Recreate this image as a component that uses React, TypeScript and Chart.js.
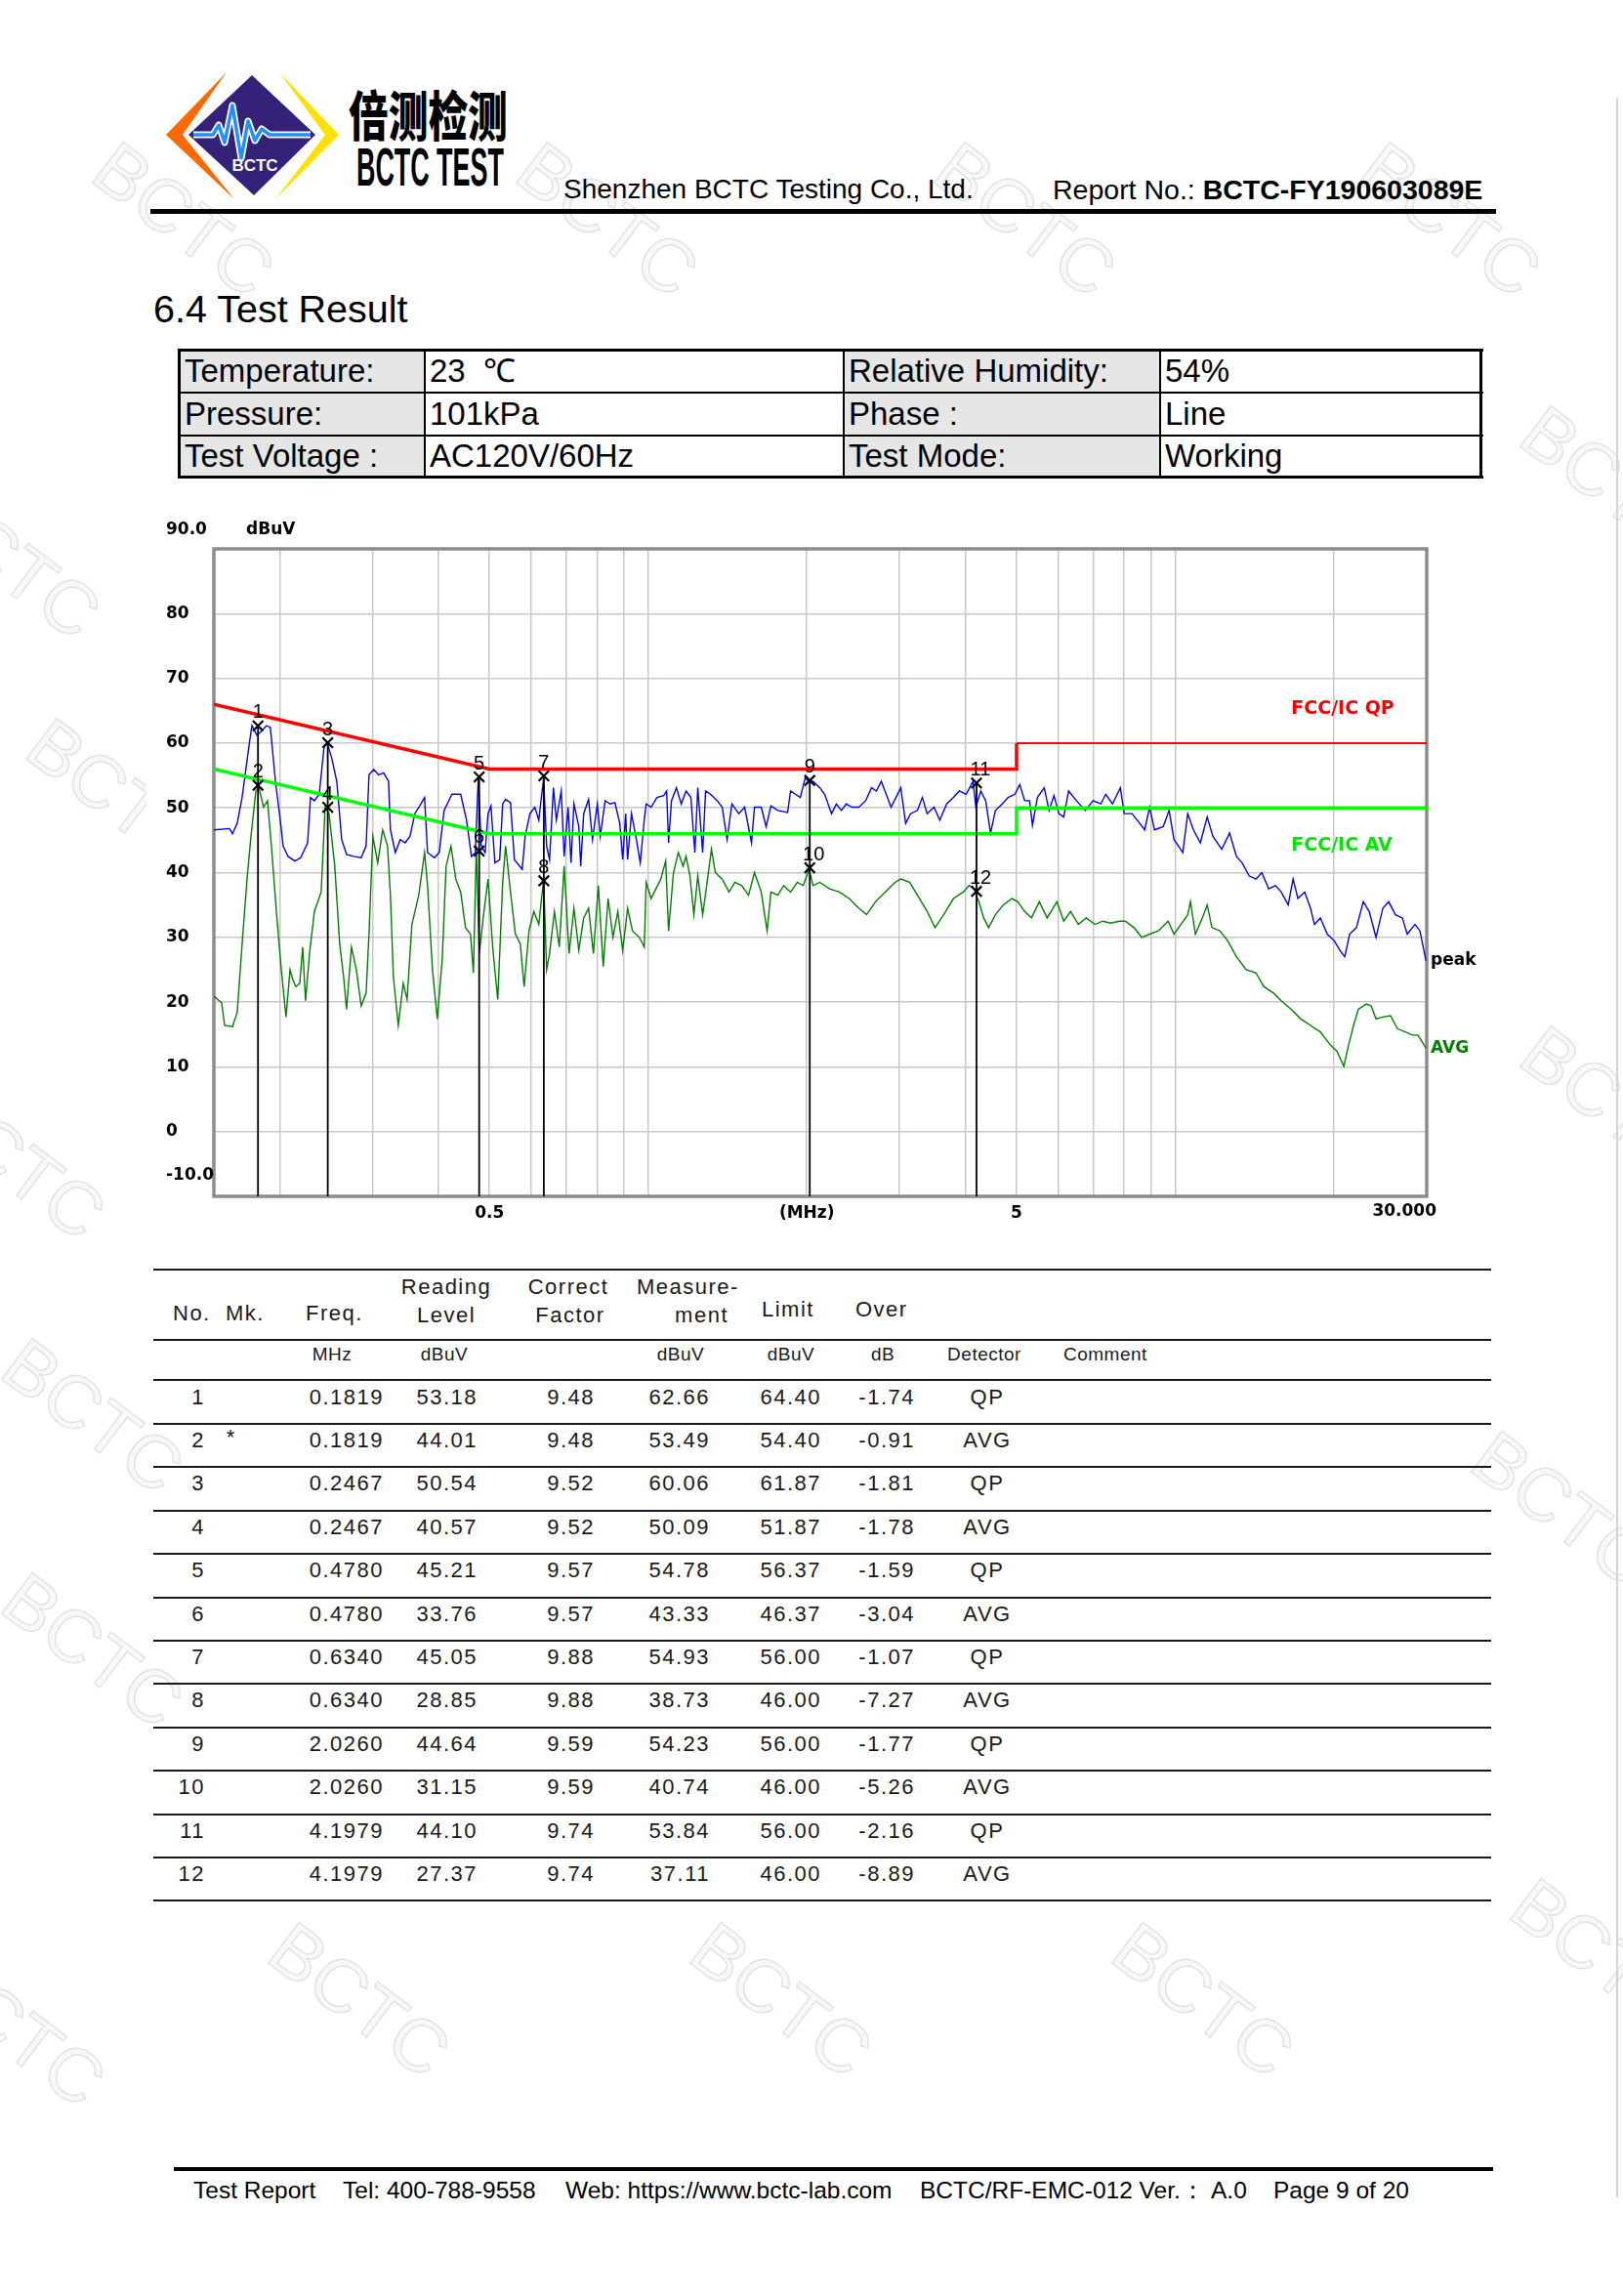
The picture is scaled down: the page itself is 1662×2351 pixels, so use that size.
import React, { useEffect, useRef } from 'react';
import { Chart, registerables } from 'chart.js';
Chart.register(...registerables);

// ---------- chart data (MHz / dBuV) ----------
const peakFreq = [0.15,0.1606,0.1627,0.1661,0.1697,0.1749,0.1771,0.1810,0.1849,0.1888,0.1920,0.1963,0.2005,0.2030,0.2074,0.2137,0.2192,0.2259,0.2288,0.2327,0.2377,0.2429,0.2460,0.2512,0.2566,0.2622,0.2678,0.2759,0.2855,0.2917,0.2954,0.3017,0.3082,0.3149,0.3217,0.3244,0.3314,0.3386,0.3459,0.3533,0.3609,0.3687,0.3766,0.3815,0.3931,0.4015,0.4101,0.4244,0.4409,0.4524,0.4622,0.4701,0.4762,0.4823,0.4906,0.4969,0.5033,0.5120,0.5229,0.5297,0.5365,0.5481,0.5575,0.5769,0.5843,0.5968,0.6096,0.6202,0.6335,0.6418,0.6501,0.6612,0.6697,0.6841,0.6929,0.7049,0.7140,0.7231,0.7387,0.7450,0.7546,0.7709,0.7842,0.8010,0.8113,0.8288,0.8467,0.8649,0.8835,0.8949,0.9065,0.9142,0.9299,0.9500,0.9663,0.9831,0.9915,1.0129,1.0390,1.0703,1.0841,1.0934,1.1074,1.1314,1.1557,1.1800,1.2054,1.2264,1.2422,1.269,1.2853,1.3130,1.3525,1.382,1.4118,1.442,1.4857,1.5244,1.571,1.5912,1.639,1.6743,1.710,1.7618,1.8391,1.863,1.9031,1.944,1.9859,2.020,2.0551,2.117,2.1626,2.2279,2.2759,2.3257,2.3758,2.4370,2.510,2.5860,2.6537,2.7109,2.7692,2.8288,2.8897,2.9520,3.0153,3.0803,3.1470,3.243,3.3129,3.384,3.4865,3.5754,3.684,3.7956,3.8935,4.012,4.1335,4.186,4.2762,4.369,4.4631,4.559,4.6971,4.8182,4.964,5.0709,5.180,5.2916,5.3597,5.4766,5.642,5.7635,5.888,6.0148,6.144,6.2763,6.4945,6.7483,6.983,7.2252,7.3798,7.604,7.8678,8.0029,8.279,8.5662,8.7512,8.9397,9.1341,9.4895,9.7354,9.9464,10.338,10.560,10.828,11.16,11.498,11.790,12.254,12.68,13.064,13.400,13.81,14.228,14.595,15.04,15.496,15.892,16.38,16.733,17.09,17.608,18.059,18.370,18.850,19.43,20.019,20.531,20.973,21.422,22.07,22.739,23.337,24.04,24.768,25.403,26.17,26.963,27.554,28.51,29.124,29.9];
const peakLevel = [46.6,46.8,46.0,47.6,51.6,59.6,62.7,61.2,61.9,62.7,62.4,54.1,48.1,44.1,42.5,41.8,42.3,44.6,51.6,51.1,52.1,59.6,60.1,57.6,54.1,45.1,42.8,42.5,42.3,44.1,55.1,55.9,55.1,55.4,54.1,46.6,43.1,45.1,44.6,45.6,49.1,50.3,51.6,43.1,42.3,43.1,49.6,52.1,52.1,48.1,42.5,43.1,54.6,44.1,43.1,49.1,50.3,41.5,42.0,50.6,51.3,50.8,42.0,40.5,45.6,49.1,50.1,48.1,54.6,44.1,42.0,53.1,48.1,52.6,42.5,50.1,41.5,50.6,47.1,41.0,49.1,51.3,45.1,50.6,45.6,51.1,50.6,50.8,47.6,42.0,49.1,42.0,49.1,45.1,41.5,48.1,50.6,50.1,51.6,51.9,52.6,44.6,51.1,53.1,50.6,52.6,51.6,43.1,53.1,43.1,52.6,52.1,51.1,50.1,45.1,50.6,49.1,50.1,44.6,50.1,50.1,47.1,50.3,49.6,49.3,52.6,52.1,51.6,54.6,54.1,54.1,53.1,52.1,49.1,50.6,49.6,50.6,50.1,50.1,51.1,53.1,52.6,54.1,52.1,50.1,51.6,53.1,47.6,49.1,49.6,51.6,49.1,50.1,48.1,50.6,51.6,52.6,52.1,54.1,50.1,52.6,51.1,46.1,49.6,50.6,51.6,52.1,53.6,51.1,51.1,47.3,51.6,53.1,49.6,51.9,49.1,48.6,52.6,51.1,49.6,51.1,50.6,52.1,50.6,53.1,49.1,49.1,47.6,46.6,50.1,46.6,47.1,49.6,45.1,43.1,49.1,46.6,44.6,48.6,45.6,43.6,46.1,42.5,41.5,39.5,39.0,40.0,37.5,38.0,37.0,35.0,39.0,36.0,37.0,34.5,32.0,33.0,30.5,29.5,28.0,27.0,30.5,31.5,35.5,34.0,30.0,34.5,35.5,33.5,33.0,30.5,32.0,31.0,26.4];

const avgFreq = [0.15,0.1552,0.1572,0.1627,0.1661,0.1697,0.1734,0.1764,0.1802,0.1826,0.1864,0.1896,0.1929,0.1971,0.2014,0.2056,0.2092,0.2119,0.2146,0.2183,0.2211,0.2239,0.2278,0.2327,0.2397,0.2439,0.2481,0.2544,0.2599,0.2644,0.2678,0.2736,0.2795,0.2855,0.2917,0.2954,0.3004,0.3069,0.3136,0.3203,0.3244,0.3286,0.3357,0.3430,0.3489,0.3563,0.3671,0.3766,0.3815,0.3898,0.3981,0.4067,0.4137,0.4226,0.4317,0.4409,0.4504,0.4602,0.4661,0.4721,0.4782,0.4865,0.4969,0.5076,0.5185,0.5297,0.5365,0.5481,0.5599,0.5720,0.5818,0.5942,0.6070,0.6202,0.6335,0.6418,0.6501,0.6641,0.6783,0.6929,0.7079,0.7231,0.7387,0.7546,0.7709,0.7875,0.8044,0.8218,0.8395,0.8576,0.8760,0.8949,0.9142,0.9339,0.9622,0.9831,0.9915,1.0129,1.0346,1.0569,1.0795,1.0934,1.117,1.1411,1.165,1.1800,1.2003,1.2212,1.2422,1.269,1.2963,1.3186,1.3410,1.382,1.4239,1.4606,1.505,1.5506,1.5912,1.639,1.6815,1.710,1.7618,1.8080,1.863,1.9194,1.9690,2.020,2.0551,2.117,2.209,2.306,2.406,2.510,2.5971,2.6994,2.8168,2.9394,3.0153,3.1336,3.243,3.384,3.5014,3.6369,3.7956,3.9604,4.0636,4.1512,4.2399,4.3312,4.4252,4.559,4.7172,4.9011,5.0279,5.180,5.3369,5.5235,5.7146,5.9638,6.144,6.3301,6.5501,6.7771,7.0428,7.286,7.5388,7.8343,8.0371,8.3499,8.640,8.9397,9.2912,9.6940,9.9464,10.25,10.560,10.69,10.920,11.256,11.498,11.740,12.15,12.571,13.064,13.631,14.228,14.720,15.364,15.892,16.591,17.310,18.059,18.850,19.680,20.27,20.884,21.331,21.791,22.259,23.04,23.536,24.04,24.768,25.620,26.394,27.32,28.148,28.877,29.9];
const avgLevel = [20.9,19.9,16.4,16.2,18.4,29.0,39.0,45.6,52.6,53.1,50.1,51.1,44.1,34.0,25.0,17.7,25.0,23.4,22.4,22.9,28.5,20.2,27.5,34.0,37.0,50.1,49.1,41.0,29.0,23.9,18.9,28.5,25.0,19.4,21.4,30.5,45.6,41.5,46.6,44.1,36.5,23.9,16.4,22.9,20.4,32.0,36.5,43.1,38.0,25.0,17.4,26.5,41.0,44.1,39.0,37.0,31.5,30.5,24.5,44.0,27.5,33.0,39.0,28.0,20.4,38.5,44.1,37.0,30.5,29.0,22.4,31.0,34.0,32.0,39.0,25.0,27.5,34.0,28.5,41.0,27.5,34.5,28.0,33.0,34.5,27.5,38.0,25.5,36.0,30.0,34.0,28.0,34.5,31.0,30.0,28.5,38.5,36.0,37.5,39.0,41.8,31.0,40.0,43.1,41.0,42.5,39.5,33.5,39.5,33.5,39.0,43.6,40.0,39.0,37.0,38.5,38.0,36.5,40.0,37.0,31.0,37.0,36.5,38.0,37.0,38.5,38.0,40.5,38.0,38.5,37.5,37.0,36.0,34.5,33.5,35.5,37.0,38.5,39.0,38.5,36.5,34.0,31.5,33.5,36.0,37.0,38.0,37.5,35.5,33.0,31.5,33.5,35.0,36.0,35.5,34.0,33.0,35.5,33.0,35.5,32.5,34.0,32.0,33.0,32.0,32.5,32.2,32.5,32.5,31.5,30.0,30.5,31.0,32.5,30.5,32.0,33.5,35.5,30.5,33.0,35.0,31.5,31.0,29.5,27.0,25.0,24.5,22.4,21.4,20.2,18.9,17.4,16.4,15.4,13.4,12.4,10.1,13.4,16.4,18.9,19.7,19.4,17.4,17.7,17.9,15.9,15.4,14.9,14.9,12.9];

const qpLimitFreq = [0.15, 0.5, 5, 5, 30];
const qpLimitLevel = [66, 56, 56, 60, 60];
const avLimitFreq = [0.15, 0.5, 5, 5, 30];
const avLimitLevel = [56, 46, 46, 50, 50];

const markerNo = [1, 2, 3, 4, 5, 6, 7, 8, 9, 10, 11, 12];
const markerFreq = [0.1819, 0.1819, 0.2467, 0.2467, 0.478, 0.478, 0.634, 0.634, 2.026, 2.026, 4.1979, 4.1979];
const markerLevel = [62.66, 53.49, 60.06, 50.09, 54.78, 43.33, 54.93, 38.73, 54.23, 40.74, 53.84, 37.11];

const xGridTicks = [0.15, 0.2, 0.3, 0.4, 0.5, 0.6, 0.7, 0.8, 0.9, 1, 2, 3, 4, 5, 6, 7, 8, 9, 10, 20, 30];
const xTickText: Record<string, string> = { '0.5': '0.5', '2': '(MHz)', '5': '5' };
const yMin = -10;
const yMax = 90;

// ---------- table data ----------
const rowNo = ['1', '2', '3', '4', '5', '6', '7', '8', '9', '10', '11', '12'];
const rowMk = ['', '*', '', '', '', '', '', '', '', '', '', ''];
const rowFreq = ['0.1819', '0.1819', '0.2467', '0.2467', '0.4780', '0.4780', '0.6340', '0.6340', '2.0260', '2.0260', '4.1979', '4.1979'];
const rowReading = ['53.18', '44.01', '50.54', '40.57', '45.21', '33.76', '45.05', '28.85', '44.64', '31.15', '44.10', '27.37'];
const rowCorrect = ['9.48', '9.48', '9.52', '9.52', '9.57', '9.57', '9.88', '9.88', '9.59', '9.59', '9.74', '9.74'];
const rowMeasure = ['62.66', '53.49', '60.06', '50.09', '54.78', '43.33', '54.93', '38.73', '54.23', '40.74', '53.84', '37.11'];
const rowLimit = ['64.40', '54.40', '61.87', '51.87', '56.37', '46.37', '56.00', '46.00', '56.00', '46.00', '56.00', '46.00'];
const rowOver = ['-1.74', '-0.91', '-1.81', '-1.78', '-1.59', '-3.04', '-1.07', '-7.27', '-1.77', '-5.26', '-2.16', '-8.89'];
const rowDetector = ['QP', 'AVG', 'QP', 'AVG', 'QP', 'AVG', 'QP', 'AVG', 'QP', 'AVG', 'QP', 'AVG'];

const FONT = '"Liberation Sans", Arial, sans-serif';
const CHART_FONT = '"DejaVu Sans", sans-serif';

type TP = { x: number; y: number; s: number; a?: 'left' | 'center' | 'right'; b?: boolean; ls?: number; c?: string; f?: string; children: React.ReactNode };
function T({ x, y, s, a = 'left', b = false, ls = 0, c = '#000', f = FONT, children }: TP) {
  const tx = a === 'left' ? '0' : a === 'center' ? '-50%' : '-100%';
  return (
    <div style={{ position: 'absolute', left: x, top: y - s * 0.52, fontSize: s, lineHeight: `${s}px`, fontFamily: f, fontWeight: b ? 'bold' : 'normal', letterSpacing: ls, color: c, whiteSpace: 'pre', transform: `translateX(${tx})` }}>{children}</div>
  );
}

function HLine({ x1, x2, y, h, c = '#000' }: { x1: number; x2: number; y: number; h: number; c?: string }) {
  return <div style={{ position: 'absolute', left: x1, top: y - h / 2, width: x2 - x1, height: h, background: c }} />;
}
function VLine({ y1, y2, x, w, c = '#000' }: { y1: number; y2: number; x: number; w: number; c?: string }) {
  return <div style={{ position: 'absolute', left: x - w / 2, top: y1, width: w, height: y2 - y1, background: c }} />;
}

const watermarks: [number, number][] = [
  [188, 225], [622, 225], [1050, 225], [1485, 225],
  [1650, 495], [10, 575], [120, 815], [1650, 1130], [15, 1190], [95, 1450], [1600, 1545], [95, 1690],
  [368, 2048], [800, 2048], [1232, 2048], [1640, 2003], [15, 2078],
];

function EmcChart() {
  const ref = useRef<HTMLCanvasElement | null>(null);
  useEffect(() => {
    if (!ref.current) return;
    const pts = (fx: number[], ly: number[]) => fx.map((f, i) => ({ x: f, y: ly[i] }));
    const markerLines: { x: number; y: number | null }[] = [];
    markerFreq.forEach((f, i) => {
      markerLines.push({ x: f, y: markerLevel[i] }, { x: f, y: yMin }, { x: f, y: null });
    });
    const lastPeak = peakLevel[peakLevel.length - 1];
    const lastAvg = avgLevel[avgLevel.length - 1];
    const overlay = {
      id: 'overlay',
      beforeDatasetsDraw(chart: any) {
        const { ctx, chartArea: a } = chart;
        ctx.save();
        ctx.strokeStyle = '#8c8c8c';
        ctx.lineWidth = 3.5;
        ctx.strokeRect(a.left, a.top, a.right - a.left, a.bottom - a.top);
        ctx.restore();
      },
      afterDatasetsDraw(chart: any) {
        const { ctx, chartArea: a, scales } = chart;
        const xs = scales.x, ys = scales.y;
        ctx.save();
        ctx.fillStyle = '#000';
        ctx.font = `bold 17px ${CHART_FONT}`;
        ctx.textBaseline = 'middle';
        ctx.textAlign = 'left';
        ctx.fillText('90.0', ys.left, a.top - 19);
        ctx.fillText('-10.0', ys.left, a.bottom - 21);
        ctx.fillText('dBuV', a.left + 33, a.top - 19);
        ctx.textAlign = 'right';
        ctx.fillText('30.000', a.right + 10, a.bottom + 16);
        ctx.textAlign = 'left';
        ctx.fillText('peak', a.right + 4, ys.getPixelForValue(lastPeak));
        ctx.fillStyle = '#008000';
        ctx.fillText('AVG', a.right + 4, ys.getPixelForValue(lastAvg));
        ctx.font = `bold 19px ${CHART_FONT}`;
        ctx.fillStyle = '#ff0000';
        ctx.fillText('FCC/IC QP', xs.getPixelForValue(16.6), ys.getPixelForValue(65.3));
        ctx.fillStyle = '#00e600';
        ctx.fillText('FCC/IC AV', xs.getPixelForValue(16.6), ys.getPixelForValue(44.2));
        const meta = chart.getDatasetMeta(0);
        ctx.font = `20px ${FONT}`;
        ctx.fillStyle = '#000';
        ctx.textAlign = 'center';
        ctx.textBaseline = 'alphabetic';
        meta.data.forEach((p: any, i: number) => {
          const lab = String(markerNo[i]);
          ctx.fillText(lab, p.x + (lab.length > 1 ? 4 : 0), p.y - 8);
        });
        ctx.restore();
      },
    };
    const chart = new Chart(ref.current, {
      type: 'line',
      data: {
        datasets: [
          { label: 'markers', data: pts(markerFreq, markerLevel), showLine: false, pointStyle: 'crossRot', pointRadius: 7.5, pointBorderWidth: 2.2, pointBorderColor: '#000', pointBackgroundColor: 'rgba(0,0,0,0)', order: 0 } as any,
          { label: 'marker lines', data: markerLines, borderColor: '#000', borderWidth: 1.8, pointRadius: 0, spanGaps: false, order: 1 } as any,
          { label: 'FCC/IC QP', data: pts(qpLimitFreq, qpLimitLevel), borderColor: '#ff0000', borderWidth: 3.5, pointRadius: 0, order: 2, segment: { borderWidth: (c: any) => (c.p0DataIndex >= 3 ? 2 : 3.5) } } as any,
          { label: 'FCC/IC AV', data: pts(avLimitFreq, avLimitLevel), borderColor: '#00ff00', borderWidth: 3.5, pointRadius: 0, order: 2 } as any,
          { label: 'AVG', data: pts(avgFreq, avgLevel), borderColor: '#008000', borderWidth: 1.4, pointRadius: 0, order: 3 } as any,
          { label: 'peak', data: pts(peakFreq, peakLevel), borderColor: '#0000ff', borderWidth: 1.4, pointRadius: 0, order: 4 } as any,
        ],
      },
      options: {
        animation: false,
        responsive: false,
        devicePixelRatio: 1,
        events: [],
        layout: { padding: { left: 20, right: 89, top: 42, bottom: 25 } },
        plugins: { legend: { display: false }, tooltip: { enabled: false } },
        scales: {
          x: {
            type: 'logarithmic',
            min: 0.15,
            max: 30,
            afterBuildTicks: (s: any) => { s.ticks = xGridTicks.map((v) => ({ value: v })); },
            afterFit: (s: any) => { s.height = 30; },
            ticks: {
              autoSkip: false,
              maxRotation: 0,
              padding: 7,
              color: '#000',
              font: { family: CHART_FONT, size: 17, weight: 'bold' },
              callback: (v: any) => xTickText[String(v)] ?? '',
            },
            grid: { color: '#c8c8c8', lineWidth: 1.5, drawTicks: false },
            border: { display: false },
          } as any,
          y: {
            type: 'linear',
            min: yMin,
            max: yMax,
            afterFit: (s: any) => { s.width = 49; },
            ticks: {
              stepSize: 10,
              padding: 0,
              crossAlign: 'far',
              color: '#000',
              font: { family: CHART_FONT, size: 17, weight: 'bold' },
              callback: (v: any) => (v === yMax || v === yMin ? '' : String(v)),
            },
            grid: { color: '#c8c8c8', lineWidth: 1.5, drawTicks: false },
            border: { display: false },
          } as any,
        },
      },
      plugins: [overlay],
    } as any);
    return () => chart.destroy();
  }, []);
  return <canvas ref={ref} width={1400} height={760} style={{ position: 'absolute', left: 150, top: 520, background: '#fff' }} />;
}

export default function App() {
  useEffect(() => {
    document.body.style.margin = '0';
  }, []);
  const rowY = (i: number) => 1431 + 44.4 * i;
  const lineY = (i: number) => 1458 + 44.4 * i;
  const S = 22, LS = 1.5, TC = '#1a1a1a';
  return (
    <div style={{ position: 'relative', width: 1662, height: 2351, overflow: 'hidden', background: '#fff', fontFamily: FONT }}>
      {/* watermarks */}
      {watermarks.map(([x, y], i) => (
        <div key={i} style={{ position: 'absolute', left: x, top: y, transform: 'translate(-50%,-50%) rotate(37deg)', fontFamily: FONT, fontSize: 76, color: '#f8f8f8', WebkitTextStroke: '1.5px #e3e3e3', whiteSpace: 'nowrap', lineHeight: '76px' } as any}>BCTC</div>
      ))}
      <VLine x={1656} y1={100} y2={2250} w={2} c="#d4d4d4" />

      {/* logo */}
      <svg style={{ position: 'absolute', left: 165, top: 70 }} width={190} height={140} viewBox="165 70 190 140">
        <polygon points="232,74 170,138 240,204 187,138" fill="#ff6a00" />
        <polygon points="286,74 347,138 282,204 333,138" fill="#ffe000" />
        <polygon points="258,77 193,138 260,200 323,138" fill="#35207a" />
        <polyline points="198,138 218,138 224,128 230,146 238,108 247,162 254,124 261,144 268,132 276,138 318,138" stroke="#ffffff" strokeWidth={7} fill="none" strokeLinejoin="round" />
        <polyline points="198,138 218,138 224,128 230,146 238,108 247,162 254,124 261,144 268,132 276,138 318,138" stroke="#1e90ff" strokeWidth={3.5} fill="none" strokeLinejoin="round" />
        <text x={261} y={175} fontFamily="Liberation Sans" fontWeight="bold" fontSize={17} fill="#fff" textAnchor="middle">BCTC</text>
      </svg>
      <div style={{ position: 'absolute', left: 357, top: 88, fontSize: 55, lineHeight: '55px', fontFamily: '"Noto Sans CJK SC", sans-serif', fontWeight: 900, transform: 'scaleX(0.74)', transformOrigin: 'left top', whiteSpace: 'nowrap', color: '#000' }}>倍测检测</div>
      <div style={{ position: 'absolute', left: 365, top: 143, fontSize: 56, lineHeight: '56px', fontFamily: FONT, fontWeight: 'bold', transform: 'scaleX(0.48)', transformOrigin: 'left top', whiteSpace: 'nowrap', color: '#000' }}>BCTC TEST</div>

      {/* header */}
      <T x={577} y={195} s={28}>Shenzhen BCTC Testing Co., Ltd.</T>
      <T x={1078} y={195} s={28.5}>Report No.: <b>BCTC-FY190603089E</b></T>
      <HLine x1={154} x2={1532} y={216.5} h={5} />

      <T x={157} y={318} s={39.5}>6.4 Test Result</T>

      {/* condition table */}
      <div style={{ position: 'absolute', left: 183, top: 357, width: 252, height: 132, background: '#e6e6e6' }} />
      <div style={{ position: 'absolute', left: 864, top: 357, width: 324, height: 132, background: '#e6e6e6' }} />
      <HLine x1={182} x2={1519} y={358} h={3} />
      <HLine x1={182} x2={1519} y={402} h={2} />
      <HLine x1={182} x2={1519} y={446} h={2} />
      <HLine x1={182} x2={1519} y={488.5} h={3} />
      <VLine x={183.5} y1={357} y2={490} w={3} />
      <VLine x={435} y1={357} y2={490} w={2} />
      <VLine x={864} y1={357} y2={490} w={2} />
      <VLine x={1188} y1={357} y2={490} w={2} />
      <VLine x={1516.5} y1={357} y2={490} w={3} />
      <T x={189} y={380} s={33}>Temperature:</T>
      <T x={440} y={380} s={33}>23  ℃</T>
      <T x={869} y={380} s={33}>Relative Humidity:</T>
      <T x={1193} y={380} s={33}>54%</T>
      <T x={189} y={424} s={33}>Pressure:</T>
      <T x={440} y={424} s={33}>101kPa</T>
      <T x={869} y={424} s={33}>Phase :</T>
      <T x={1193} y={424} s={33}>Line</T>
      <T x={189} y={467} s={33}>Test Voltage :</T>
      <T x={440} y={467} s={33}>AC120V/60Hz</T>
      <T x={869} y={467} s={33}>Test Mode:</T>
      <T x={1193} y={467} s={33}>Working</T>

      {/* chart */}
      <EmcChart />

      {/* result table */}
      <HLine x1={157} x2={1527} y={1300} h={2} c={TC} />
      <HLine x1={157} x2={1527} y={1372} h={2} c={TC} />
      <HLine x1={157} x2={1527} y={1413} h={2} c={TC} />
      {rowNo.map((_, i) => <HLine key={'l' + i} x1={157} x2={1527} y={lineY(i)} h={2} c={TC} />)}

      <T x={177} y={1345} s={S} ls={LS} c={TC}>No.  Mk.</T>
      <T x={313} y={1345} s={S} ls={LS} c={TC}>Freq.</T>
      <T x={457} y={1318} s={S} ls={LS} c={TC} a="center">Reading</T>
      <T x={457} y={1347} s={S} ls={LS} c={TC} a="center">Level</T>
      <T x={582} y={1318} s={S} ls={LS} c={TC} a="center">Correct</T>
      <T x={584} y={1347} s={S} ls={LS} c={TC} a="center">Factor</T>
      <T x={652} y={1318} s={S} ls={LS} c={TC}>Measure-</T>
      <T x={746} y={1347} s={S} ls={LS} c={TC} a="right">ment</T>
      <T x={780} y={1341} s={S} ls={LS} c={TC}>Limit</T>
      <T x={876} y={1341} s={S} ls={LS} c={TC}>Over</T>

      <T x={340} y={1387} s={19} ls={0.5} c={TC} a="center">MHz</T>
      <T x={455} y={1387} s={19} ls={0.5} c={TC} a="center">dBuV</T>
      <T x={697} y={1387} s={19} ls={0.5} c={TC} a="center">dBuV</T>
      <T x={810} y={1387} s={19} ls={0.5} c={TC} a="center">dBuV</T>
      <T x={904} y={1387} s={19} ls={0.5} c={TC} a="center">dB</T>
      <T x={1008} y={1387} s={19} ls={0.5} c={TC} a="center">Detector</T>
      <T x={1089} y={1387} s={19} ls={0.5} c={TC}>Comment</T>

      {rowNo.map((n, i) => (
        <React.Fragment key={'r' + i}>
          <T x={210} y={rowY(i)} s={S} ls={LS} c={TC} a="right">{n}</T>
          {rowMk[i] ? <T x={236} y={rowY(i) - 3} s={S} ls={0} c={TC} a="center">{rowMk[i]}</T> : null}
          <T x={393} y={rowY(i)} s={S} ls={LS} c={TC} a="right">{rowFreq[i]}</T>
          <T x={489} y={rowY(i)} s={S} ls={LS} c={TC} a="right">{rowReading[i]}</T>
          <T x={609} y={rowY(i)} s={S} ls={LS} c={TC} a="right">{rowCorrect[i]}</T>
          <T x={727} y={rowY(i)} s={S} ls={LS} c={TC} a="right">{rowMeasure[i]}</T>
          <T x={841} y={rowY(i)} s={S} ls={LS} c={TC} a="right">{rowLimit[i]}</T>
          <T x={937} y={rowY(i)} s={S} ls={LS} c={TC} a="right">{rowOver[i]}</T>
          <T x={1011} y={rowY(i)} s={S} ls={LS} c={TC} a="center">{rowDetector[i]}</T>
        </React.Fragment>
      ))}

      {/* footer */}
      <HLine x1={178} x2={1529} y={2221} h={4} />
      <T x={198} y={2244} s={24.5}>Test Report</T>
      <T x={351} y={2244} s={24.5}>Tel: 400-788-9558</T>
      <T x={579} y={2244} s={24.5}>Web: https://www.bctc-lab.com</T>
      <T x={942} y={2244} s={24.5}>BCTC/RF-EMC-012 Ver.：</T>
      <T x={1240} y={2244} s={24.5}>A.0</T>
      <T x={1304} y={2244} s={24.5}>Page 9 of 20</T>
    </div>
  );
}
